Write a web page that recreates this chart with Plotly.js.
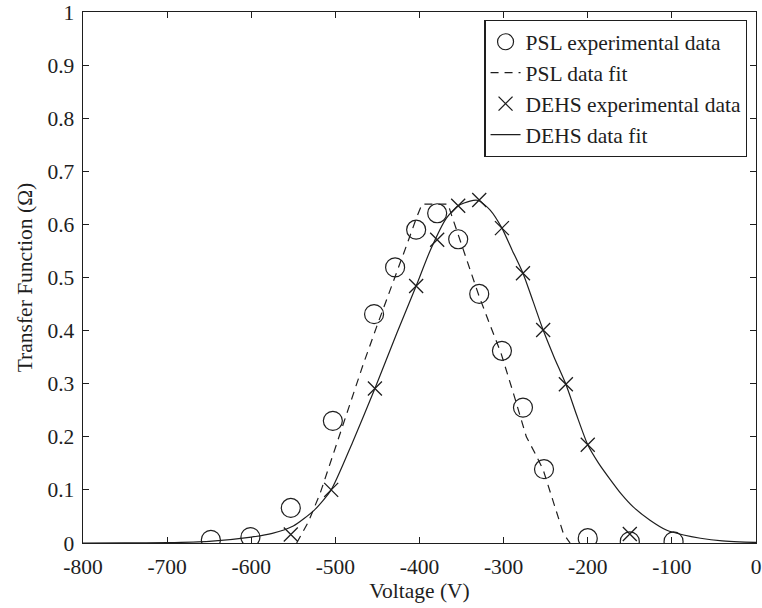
<!DOCTYPE html>
<html>
<head>
<meta charset="utf-8">
<script src="https://cdn.plot.ly/plotly-3.0.1.min.js"></script>
<style>html,body{margin:0;padding:0;background:#fff;}#chart{width:762px;height:608px;}</style>
</head>
<body>
<div id="chart"></div>
<script>
// PSL experimental data
var pslV = [-648, -601, -553, -503, -454, -429, -404, -379, -354, -329, -302, -277, -252, -200, -150, -98];
var pslT = [0.006, 0.011, 0.066, 0.230, 0.431, 0.519, 0.590, 0.621, 0.572, 0.469, 0.362, 0.255, 0.139, 0.009, 0.003, 0.003];
// PSL data fit
var pslFitV = [-546, -532, -518, -500, -483, -467, -451, -439, -427, -415, -403, -397, -380, -366, -362, -346, -329, -316, -303, -288, -273, -263, -253, -241, -229, -221];
var pslFitT = [0.000, 0.040, 0.094, 0.180, 0.263, 0.336, 0.407, 0.458, 0.508, 0.562, 0.615, 0.638, 0.638, 0.638, 0.618, 0.545, 0.464, 0.410, 0.357, 0.280, 0.200, 0.170, 0.138, 0.078, 0.018, 0.000];
// DEHS experimental data
var dehsV = [-553, -505, -453, -404, -379, -354, -329, -302, -277, -253, -226, -200, -150];
var dehsT = [0.016, 0.100, 0.291, 0.484, 0.571, 0.635, 0.646, 0.593, 0.508, 0.401, 0.299, 0.185, 0.017];
// DEHS data fit
var dehsFitV = [-800, -750, -700, -650, -600, -575, -550, -525, -505, -480, -453, -427, -404, -387, -368, -354, -340, -330, -316, -302, -290, -277, -265, -253, -240, -226, -213, -200, -187, -173, -160, -146, -126, -106, -86, -66, -40, -20, 0];
var dehsFitT = [0.000, 0.0001, 0.0006, 0.003, 0.011, 0.018, 0.032, 0.062, 0.100, 0.188, 0.291, 0.395, 0.484, 0.552, 0.612, 0.635, 0.644, 0.645, 0.627, 0.593, 0.552, 0.508, 0.455, 0.401, 0.350, 0.299, 0.240, 0.185, 0.150, 0.119, 0.092, 0.068, 0.043, 0.024, 0.015, 0.009, 0.004, 0.002, 0.001];
// tick labels
var xTickVals = [-800, -700, -600, -500, -400, -300, -200, -100, 0];
var xTickText = ['-800', '-700', '-600', '-500', '-400', '-300', '-200', '-100', '0'];
var yTickVals = [0, 0.1, 0.2, 0.3, 0.4, 0.5, 0.6, 0.7, 0.8, 0.9, 1];
var yTickText = ['0', '0.1', '0.2', '0.3', '0.4', '0.5', '0.6', '0.7', '0.8', '0.9', '1'];

var ink = '#1e1e1e';
var fontFam = 'Liberation Serif, Times New Roman, serif';
var fs = 21.5;

var traces = [
  {x: pslV, y: pslT, mode: 'markers', type: 'scatter', name: 'PSL experimental data',
   marker: {symbol: 'circle-open', size: 19, color: ink, line: {width: 1.2, color: ink}}},
  {x: pslFitV, y: pslFitT, mode: 'lines', type: 'scatter', name: 'PSL data fit',
   line: {color: ink, width: 1.2, dash: '8px,6px'}},
  {x: dehsV, y: dehsT, mode: 'markers', type: 'scatter', name: 'DEHS experimental data',
   marker: {symbol: 'x-thin-open', size: 14, color: ink, line: {width: 1.3, color: ink}}},
  {x: dehsFitV, y: dehsFitT, mode: 'lines', type: 'scatter', name: 'DEHS data fit',
   line: {color: ink, width: 1.2, shape: 'spline', smoothing: 0.6}}
];

var axisCommon = {
  showgrid: false, zeroline: false, showline: true, linecolor: ink, linewidth: 1.4,
  mirror: 'ticks', ticks: 'inside', ticklen: 6, tickwidth: 1, tickcolor: ink,
  tickmode: 'array', ticklabeloverflow: 'allow', tickfont: {family: fontFam, size: fs, color: ink}
};

var layout = {
  width: 762, height: 608,
  margin: {l: 83, r: 6, t: 12, b: 65},
  paper_bgcolor: '#fff', plot_bgcolor: '#fff',
  font: {family: fontFam, size: fs, color: ink},
  showlegend: true,
  legend: {x: 0.987, y: 0.985, xanchor: 'right', yanchor: 'top',
    bgcolor: '#fff', bordercolor: ink, borderwidth: 1.3,
    font: {family: fontFam, size: fs, color: ink}, tracegroupgap: 0},
  xaxis: Object.assign({}, axisCommon, {
    range: [-800, 0], tickvals: xTickVals, ticktext: xTickText, ticklabelstandoff: 4,
    title: {text: 'Voltage (V)', font: {family: fontFam, size: fs, color: ink}, standoff: 4}
  }),
  yaxis: Object.assign({}, axisCommon, {
    range: [0, 1], tickvals: yTickVals, ticktext: yTickText, ticklabelstandoff: 3,
    title: {text: 'Transfer Function (Ω)', font: {family: fontFam, size: fs, color: ink}, standoff: 9}
  })
};

Plotly.newPlot('chart', traces, layout, {displayModeBar: false, staticPlot: true});
</script>
</body>
</html>
